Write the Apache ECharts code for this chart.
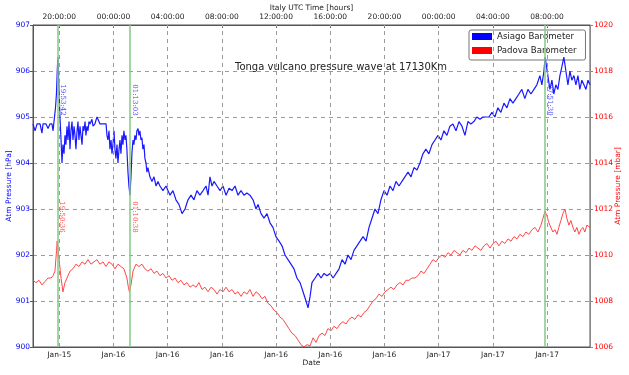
<!DOCTYPE html>
<html><head><meta charset="utf-8">
<script src="https://cdn.jsdelivr.net/npm/echarts@6/dist/echarts.min.js"></script>
<style>html,body{margin:0;padding:0;background:#fff}#c{width:629px;height:375px}</style>
</head><body><div id="c"></div>
<script>
// x values are hours counted from Jan-15 00:00 (Italy UTC)
const tickHours = [20, 24, 28, 32, 36, 40, 44, 48, 52, 56];
const bottomTickLabels = ['Jan-15','Jan-16','Jan-16','Jan-16','Jan-16','Jan-16','Jan-16','Jan-17','Jan-17','Jan-17'];
const topTickLabels = ['20:00:00','00:00:00','04:00:00','08:00:00','12:00:00','16:00:00','20:00:00','00:00:00','04:00:00','08:00:00'];
const startHour = 18.06, endHour = 59.17;

const asiagoEventHours = [19.895, 25.2175, 55.86];
const asiagoEventLabels = ['19:53:42', '01:13:03', '07:51:30'];
const padovaEventHours = [19.843, 25.177];
const padovaEventLabels = ['19:50:36', '01:10:38'];

const asiagoHours = [18.06,18.21,18.36,18.58,18.72,18.80,19.02,19.17,19.31,19.46,19.54,19.61,19.72,19.79,19.85,19.895,19.98,20.05,20.13,20.20,20.27,20.35,20.42,20.49,20.57,20.64,20.72,20.79,20.86,20.94,21.01,21.09,21.16,21.23,21.31,21.38,21.45,21.53,21.60,21.68,21.75,21.82,21.90,21.97,22.04,22.12,22.19,22.27,22.41,22.49,22.63,22.78,22.93,23.00,23.30,23.45,23.52,23.59,23.67,23.74,23.82,23.89,23.96,24.04,24.11,24.18,24.26,24.33,24.41,24.48,24.55,24.63,24.70,24.77,24.85,24.92,24.99,25.07,25.14,25.2175,25.29,25.36,25.44,25.51,25.58,25.66,25.73,25.81,25.88,25.95,26.03,26.10,26.17,26.25,26.32,26.40,26.47,26.54,26.69,26.84,26.99,27.14,27.28,27.43,27.65,27.88,28.02,28.17,28.39,28.61,28.83,29.06,29.28,29.50,29.72,29.94,30.16,30.38,30.61,30.83,30.98,31.12,31.27,31.42,31.64,31.86,32.08,32.31,32.53,32.75,32.97,33.19,33.41,33.63,33.85,34.07,34.30,34.52,34.67,34.89,35.11,35.33,35.55,35.77,35.99,36.22,36.44,36.66,36.88,37.10,37.32,37.54,37.77,37.99,38.21,38.36,38.51,38.65,38.88,39.10,39.32,39.54,39.76,39.98,40.21,40.43,40.65,40.87,41.09,41.31,41.53,41.75,41.97,42.20,42.42,42.64,42.86,43.08,43.30,43.52,43.74,43.97,44.19,44.41,44.63,44.85,45.07,45.29,45.51,45.74,45.96,46.18,46.40,46.62,46.84,47.06,47.28,47.51,47.73,47.95,48.17,48.39,48.61,48.83,49.05,49.28,49.50,49.72,49.94,50.16,50.38,50.60,50.82,51.05,51.27,51.49,51.71,51.93,52.15,52.37,52.59,52.82,53.04,53.26,53.48,53.70,53.92,54.14,54.36,54.59,54.81,55.03,55.25,55.47,55.62,55.77,55.86,56.06,56.21,56.36,56.50,56.65,56.80,56.95,57.10,57.24,57.39,57.54,57.69,57.83,57.98,58.13,58.28,58.42,58.57,58.72,58.87,59.02,59.17];
const asiagoHPa = [904.85,904.7,904.85,904.85,904.65,904.85,904.85,904.75,904.85,904.85,904.7,904.9,905.2,905.5,906.0,906.3,905.6,905.0,904.5,904.0,904.4,904.2,904.6,904.4,904.8,904.5,904.9,904.3,904.7,904.9,904.5,904.8,904.6,904.3,904.7,904.9,904.5,904.8,904.6,904.4,904.8,904.7,904.9,904.6,904.8,904.7,904.9,904.85,904.95,904.8,904.85,905.0,904.9,904.85,904.85,904.85,904.6,904.5,904.7,904.3,904.5,904.2,904.4,904.7,904.3,904.1,904.4,904.0,904.3,904.5,904.2,904.6,904.4,904.7,904.5,904.6,904.3,903.8,903.5,903.3,903.7,904.2,904.5,904.4,904.6,904.5,904.7,904.75,904.6,904.7,904.5,904.55,904.3,904.4,904.1,904.0,903.8,903.9,903.7,903.6,903.7,903.5,903.6,903.5,903.4,903.5,903.4,903.3,903.4,903.2,903.1,902.9,903.0,903.2,903.3,903.2,903.4,903.3,903.4,903.5,903.3,903.7,903.5,903.6,903.5,903.4,903.5,903.3,903.45,903.4,903.5,903.3,903.4,903.3,903.35,903.3,903.2,903.0,903.1,902.9,902.8,902.9,902.7,902.6,902.4,902.3,902.2,902.0,901.9,901.8,901.7,901.5,901.4,901.2,901.0,900.85,901.1,901.4,901.5,901.6,901.5,901.6,901.55,901.6,901.5,901.6,901.7,901.9,901.8,902.0,901.9,902.1,902.2,902.3,902.4,902.3,902.6,902.8,903.0,902.9,903.2,903.4,903.3,903.5,903.4,903.6,903.5,903.6,903.7,903.8,903.7,903.9,903.85,904.0,904.2,904.3,904.2,904.4,904.5,904.6,904.5,904.7,904.6,904.8,904.85,904.7,904.9,904.8,904.6,904.9,904.85,904.9,905.0,904.95,905.0,905.0,905.0,905.1,905.0,905.2,905.1,905.3,905.2,905.4,905.3,905.4,905.5,905.6,905.4,905.6,905.5,905.6,905.7,905.9,905.7,906.0,906.3,905.9,905.6,905.8,905.5,905.7,905.6,905.9,906.1,906.3,906.0,905.7,906.0,905.8,905.9,905.7,905.9,905.6,905.8,905.7,905.6,905.8,905.7];

const padovaHours = [18.06,18.28,18.50,18.72,18.95,19.17,19.39,19.54,19.68,19.80,19.843,19.95,20.13,20.27,20.42,20.57,20.79,21.01,21.23,21.45,21.68,21.90,22.12,22.34,22.56,22.78,23.00,23.23,23.45,23.67,23.89,24.11,24.33,24.55,24.77,24.99,25.10,25.177,25.29,25.44,25.66,25.88,26.10,26.32,26.54,26.77,26.99,27.21,27.43,27.65,27.88,28.10,28.32,28.54,28.76,28.98,29.20,29.43,29.65,29.87,30.09,30.31,30.53,30.75,30.98,31.20,31.42,31.64,31.86,32.08,32.31,32.53,32.75,32.97,33.19,33.41,33.63,33.85,34.07,34.30,34.52,34.74,34.96,35.18,35.40,35.62,35.85,36.07,36.29,36.51,36.73,36.95,37.17,37.40,37.62,37.84,38.06,38.28,38.51,38.73,38.95,39.17,39.39,39.61,39.83,40.05,40.27,40.50,40.72,40.94,41.16,41.38,41.60,41.82,42.05,42.27,42.49,42.71,42.93,43.15,43.37,43.59,43.82,44.04,44.26,44.48,44.70,44.92,45.14,45.37,45.59,45.81,46.03,46.25,46.47,46.69,46.92,47.14,47.36,47.58,47.80,48.02,48.24,48.47,48.69,48.91,49.13,49.35,49.57,49.79,50.02,50.24,50.46,50.68,50.90,51.12,51.34,51.57,51.79,52.01,52.23,52.45,52.67,52.89,53.12,53.34,53.56,53.78,54.00,54.22,54.44,54.66,54.89,55.11,55.33,55.55,55.70,55.85,55.99,56.14,56.28,56.43,56.58,56.73,56.87,57.02,57.17,57.32,57.46,57.61,57.76,57.91,58.05,58.20,58.35,58.50,58.64,58.79,58.94,59.17];
const padovaMbar = [1008.9,1008.8,1008.9,1008.7,1008.85,1009.0,1009.0,1009.1,1009.3,1010.2,1010.6,1010.0,1009.0,1008.4,1008.8,1009.0,1009.3,1009.4,1009.6,1009.5,1009.7,1009.6,1009.8,1009.6,1009.7,1009.8,1009.6,1009.7,1009.5,1009.7,1009.6,1009.4,1009.6,1009.5,1009.4,1009.0,1008.6,1008.4,1008.7,1009.3,1009.6,1009.5,1009.6,1009.4,1009.3,1009.4,1009.2,1009.3,1009.1,1009.2,1009.0,1009.1,1008.9,1009.0,1008.8,1008.9,1008.7,1008.8,1008.6,1008.7,1008.6,1008.8,1008.5,1008.6,1008.4,1008.6,1008.5,1008.3,1008.5,1008.4,1008.6,1008.4,1008.5,1008.3,1008.4,1008.2,1008.4,1008.3,1008.5,1008.2,1008.4,1008.3,1008.1,1008.2,1007.9,1007.8,1007.6,1007.5,1007.3,1007.2,1007.0,1006.8,1006.6,1006.5,1006.3,1006.1,1006.0,1006.1,1006.05,1006.4,1006.2,1006.5,1006.6,1006.5,1006.8,1006.7,1006.9,1006.8,1007.0,1007.1,1007.0,1007.2,1007.3,1007.2,1007.4,1007.3,1007.5,1007.6,1007.8,1008.0,1008.1,1008.3,1008.2,1008.4,1008.5,1008.6,1008.5,1008.7,1008.8,1008.7,1008.9,1008.9,1009.0,1009.0,1009.1,1009.3,1009.2,1009.4,1009.6,1009.8,1009.7,1009.9,1010.0,1009.9,1010.1,1010.0,1010.2,1010.1,1010.0,1010.2,1010.1,1010.3,1010.2,1010.4,1010.3,1010.2,1010.4,1010.5,1010.3,1010.5,1010.6,1010.4,1010.6,1010.5,1010.7,1010.6,1010.8,1010.7,1010.9,1010.8,1011.0,1010.9,1011.1,1011.2,1011.0,1011.3,1011.6,1011.9,1011.7,1011.4,1011.2,1011.0,1011.1,1010.9,1011.2,1011.5,1011.8,1012.0,1011.6,1011.3,1011.5,1011.2,1011.0,1011.2,1010.9,1011.1,1011.2,1011.0,1011.3,1011.2];

const FONT = 'DejaVu Sans';
const chart = echarts.init(document.getElementById('c'), null, {renderer: 'canvas'});
const tickLabel = (arr) => (v) => { const i = tickHours.findIndex(t => Math.abs(t - v) < 1e-6); return i >= 0 ? arr[i] : ''; };

chart.setOption({
  animation: false,
  backgroundColor: '#fff',
  textStyle: {fontFamily: FONT},
  title: {
    text: 'Tonga vulcano pressure wave at 17130Km',
    left: 235, top: 62, padding: 0,
    textStyle: {fontFamily: FONT, fontSize: 10, fontWeight: 'normal', color: '#222'}
  },
  legend: {
    data: ['Asiago Barometer', 'Padova Barometer'],
    orient: 'vertical', left: 469, top: 30,
    padding: [2, 9, 5, 3], itemGap: 5,
    itemWidth: 20, itemHeight: 7, icon: 'rect',
    itemStyle: {borderWidth: 0},
    lineStyle: {width: 0, opacity: 0},
    backgroundColor: '#fff', borderColor: '#777', borderWidth: 1, borderRadius: 2,
    textStyle: {fontFamily: FONT, fontSize: 8.6, color: '#222'}
  },
  grid: {left: 33, right: 39, top: 25, bottom: 28, outerBoundsMode: 'none', containLabel: false,
    show: true, borderColor: '#555', borderWidth: 1, backgroundColor: 'transparent'},
  xAxis: [{
    type: 'value', min: startHour, max: endHour, position: 'bottom',
    name: 'Date', nameLocation: 'middle', nameGap: 12, nameMoveOverlap: false,
    nameTextStyle: {fontFamily: FONT, fontSize: 7.5, color: '#222'},
    axisLine: {show: true, lineStyle: {color: '#555'}},
    axisTick: {show: true, customValues: tickHours, length: 3, inside: true, lineStyle: {color: '#555'}},
    axisLabel: {customValues: tickHours, formatter: tickLabel(bottomTickLabels), fontFamily: FONT, fontSize: 7.5, color: '#222', margin: 4},
    splitLine: {show: false}
  }, {
    type: 'value', min: startHour, max: endHour, position: 'top',
    name: 'Italy UTC Time [hours]', nameLocation: 'middle', nameGap: 13, nameMoveOverlap: false,
    nameTextStyle: {fontFamily: FONT, fontSize: 7.5, color: '#222'},
    axisLine: {show: true, lineStyle: {color: '#555'}},
    axisTick: {show: true, customValues: tickHours, length: 3, inside: true, lineStyle: {color: '#555'}},
    axisLabel: {customValues: tickHours, formatter: tickLabel(topTickLabels), fontFamily: FONT, fontSize: 7.5, color: '#222', margin: 4},
    splitLine: {show: false}
  }],
  yAxis: [{
    type: 'value', min: 900, max: 907, interval: 1, position: 'left',
    name: 'Atm Pressure [hPa]', nameLocation: 'middle', nameGap: 20, nameMoveOverlap: false,
    nameTextStyle: {fontFamily: FONT, fontSize: 7.5, color: '#0000ff'},
    axisLine: {show: true, lineStyle: {color: '#555'}},
    axisTick: {show: true, length: 3, lineStyle: {color: '#555'}},
    axisLabel: {fontFamily: FONT, fontSize: 7.5, color: '#0000ff', margin: 3, formatter: v => String(v)},
    splitLine: {show: true, lineStyle: {color: '#9a9a9a', type: [4, 4], width: 1}}
  }, {
    type: 'value', min: 1006, max: 1020, interval: 2, position: 'right',
    name: 'Atm Pressure [mbar]', nameLocation: 'middle', nameGap: 24, nameMoveOverlap: false,
    nameTextStyle: {fontFamily: FONT, fontSize: 7.5, color: '#ff0000'},
    axisLine: {show: true, lineStyle: {color: '#888'}},
    axisTick: {show: true, length: 3, lineStyle: {color: '#888'}},
    axisLabel: {fontFamily: FONT, fontSize: 7.5, color: '#ff0000', margin: 4, formatter: v => String(v)},
    splitLine: {show: false}
  }],
  series: [{
    name: 'grid', type: 'line', data: [], xAxisIndex: 0, yAxisIndex: 0, z: 1, silent: true,
    markLine: {
      silent: true, symbol: 'none', label: {show: false},
      lineStyle: {color: '#9a9a9a', type: [4, 4], width: 1},
      data: tickHours.map(h => ({xAxis: h}))
    }
  }, {
    name: 'Padova Barometer', type: 'line', xAxisIndex: 0, yAxisIndex: 1, z: 3,
    data: padovaHours.map((h, i) => [h, padovaMbar[i]]),
    showSymbol: false, symbol: 'none', color: '#ff0000',
    lineStyle: {color: '#ff3333', width: 0.9},
    markPoint: {
      symbol: 'circle', symbolSize: 1, itemStyle: {color: 'rgba(0,0,0,0)'}, silent: true,
      label: {show: true, position: 'inside', rotate: -90, color: '#ff4444', fontSize: 7, fontFamily: 'DejaVu Serif'},
      data: padovaEventHours.map((h, i) => ({coord: [h, 1011.65], label: {formatter: padovaEventLabels[i], offset: [0, -5]}}))
    }
  }, {
    name: 'Asiago Barometer', type: 'line', xAxisIndex: 0, yAxisIndex: 0, z: 4,
    data: asiagoHours.map((h, i) => [h, asiagoHPa[i]]),
    showSymbol: false, symbol: 'none', color: '#0000ff',
    lineStyle: {color: '#1a1aff', width: 1.2},
    markLine: {
      silent: true, symbol: 'none', label: {show: false},
      lineStyle: {color: '#86c986', type: 'solid', width: 1.5},
      data: asiagoEventHours.map(h => ({xAxis: h}))
    },
    markPoint: {
      symbol: 'circle', symbolSize: 1, itemStyle: {color: 'rgba(0,0,0,0)'}, silent: true,
      label: {show: true, position: 'inside', rotate: -90, color: '#4444ff', fontSize: 7, fontFamily: 'DejaVu Serif'},
      data: asiagoEventHours.map((h, i) => ({coord: [h, 905.37], label: {formatter: asiagoEventLabels[i], offset: [0, -5]}}))
    }
  }]
});
</script>
</body></html>
